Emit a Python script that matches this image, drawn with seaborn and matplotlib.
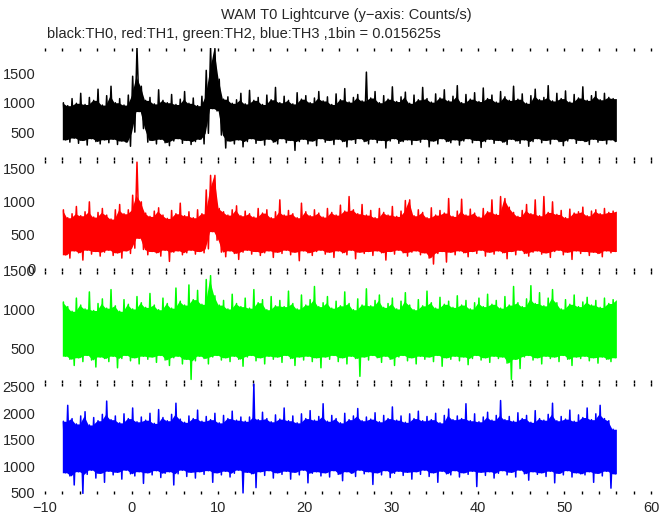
import numpy as np
import pandas as pd
import matplotlib
matplotlib.use("Agg")
import matplotlib.pyplot as plt
from matplotlib.ticker import MultipleLocator
import seaborn as sns

# Light curve envelopes, 0.5 s blocks from t = -8 s to 56 s
# (hi = local top of the noise, lo = local bottom)
t_start = -8.0
block = 0.5

th0_hi = [1000, 950, 1070, 990, 1160, 970, 1090, 1040, 1230, 960,
          1120, 1280, 1000, 1070, 960, 1130, 1450, 1930, 1280, 1040,
          1090, 980, 1220, 1040, 1000, 1140, 970, 1060, 1190, 990,
          1080, 950, 1110, 1550, 1930, 1920, 1400, 1060, 1100, 990,
          1050, 1160, 980, 1210, 1040, 1090, 970, 1130, 1050, 1260,
          1000, 1110, 1040, 980, 1170, 1060, 1120, 1000, 1080, 1190,
          1030, 1100, 970, 1150, 1050, 1240, 1010, 1090, 1140, 1030,
          1520, 1080, 1190, 1000, 1120, 1060, 1270, 1020, 1100, 1180,
          990, 1130, 1050, 1260, 1070, 1010, 1150, 1080, 1220, 1030,
          1110, 1290, 1000, 1140, 1060, 1170, 1020, 1250, 1070, 1130,
          1010, 1190, 1100, 1040, 1280, 1060, 1150, 990, 1120, 1230,
          1050, 1090, 1290, 1030, 1160, 1070, 1200, 1010, 1140, 1080,
          1270, 1040, 1120, 1190, 1050, 1160, 1090, 1070]
th0_lo = [370, 330, 400, 310, 360, 280, 390, 340, 300, 370,
          320, 380, 290, 350, 330, 260, 500, 850, 560, 330,
          360, 300, 380, 320, 270, 350, 390, 310, 360, 290,
          340, 380, 300, 480, 900, 860, 450, 230, 350, 300,
          370, 250, 340, 390, 310, 360, 280, 380, 330, 300,
          390, 320, 360, 190, 340, 380, 300, 350, 270, 390,
          330, 360, 290, 380, 340, 250, 370, 310, 390, 340,
          300, 380, 320, 360, 230, 350, 390, 310, 340, 370,
          290, 360, 330, 380, 250, 350, 300, 390, 340, 320,
          370, 280, 350, 390, 320, 360, 240, 340, 380, 310,
          360, 330, 290, 380, 350, 310, 370, 260, 340, 390,
          320, 360, 300, 380, 340, 270, 350, 390, 310, 360,
          340, 290, 380, 330, 360, 300, 370, 340]

th1_hi = [880, 760, 820, 930, 790, 850, 1000, 770, 840, 900,
          800, 740, 880, 960, 820, 880, 1100, 1600, 1000, 830,
          780, 860, 910, 800, 750, 870, 820, 980, 790, 850,
          760, 880, 820, 1180, 1400, 1400, 900, 850, 800, 880,
          940, 790, 860, 820, 770, 900, 830, 880, 760, 850,
          1030, 800, 870, 820, 760, 980, 850, 790, 880, 830,
          770, 900, 840, 800, 950, 860, 1080, 880, 820, 960,
          800, 870, 760, 900, 840, 800, 930, 780, 860, 1020,
          1030, 790, 880, 840, 760, 910, 800, 870, 830, 1050,
          780, 860, 1040, 800, 890, 830, 770, 900, 850, 1030,
          810, 1080, 1050, 920, 840, 780, 870, 960, 820, 1030,
          790, 1080, 840, 1000, 810, 870, 760, 890, 830, 850,
          920, 790, 860, 880, 820, 900, 840, 860]
th1_lo = [200, 150, 260, 230, 120, 270, 210, 250, 180, 240,
          270, 190, 230, 150, 260, 220, 300, 450, 280, 200,
          250, 230, 180, 270, 100, 240, 260, 200, 230, 270,
          210, 250, 230, 290, 550, 420, 240, 170, 260, 220,
          130, 240, 270, 210, 250, 190, 230, 260, 160, 240,
          220, 270, 200, 240, 110, 260, 230, 190, 250, 270,
          210, 240, 160, 260, 230, 200, 270, 140, 240, 220,
          250, 190, 260, 230, 120, 250, 210, 270, 230, 180,
          240, 260, 200, 230, 150, 60, 220, 250, 90, 240,
          200, 260, 230, 170, 250, 220, 270, 180, 240, 210,
          260, 230, 140, 250, 200, 270, 220, 180, 240, 260,
          210, 230, 160, 250, 270, 200, 240, 130, 260, 220,
          250, 190, 240, 220, 170, 260, 230, 250]

th2_hi = [1100, 1040, 980, 1150, 1060, 1010, 1230, 990, 1080, 1140,
          1020, 1260, 1050, 980, 1130, 1070, 1010, 1170, 1090, 1030,
          1210, 1060, 1000, 1150, 1080, 1020, 1280, 1110, 1060, 1320,
          1130, 1250, 1070, 1390, 1440, 1180, 1060, 1120, 1010, 1200,
          1080, 1040, 1150, 1020, 1260, 1090, 1130, 1000, 1170, 1050,
          1120, 1040, 1240, 1080, 1010, 1190, 1060, 1130, 1300, 1040,
          1090, 1170, 1020, 1110, 1050, 1230, 1080, 1000, 1140, 1060,
          1270, 1050, 1120, 1190, 1030, 1080, 1150, 1010, 1110, 1220,
          1060, 1000, 1130, 1050, 1240, 1090, 1020, 1160, 1070, 1110,
          1030, 1180, 1060, 1120, 1010, 1090, 1150, 1040, 1200, 1070,
          1120, 1020, 1170, 1060, 1300, 1090, 1040, 1140, 1310, 1080,
          1220, 1050, 1150, 1260, 1090, 1010, 1130, 1070, 1190, 1040,
          1100, 1160, 1060, 1120, 1030, 1150, 1080, 1130]
th2_lo = [400, 360, 280, 380, 330, 410, 350, 260, 390, 370,
          330, 400, 250, 370, 410, 340, 380, 300, 400, 360,
          390, 320, 410, 350, 280, 380, 400, 300, 360, 100,
          340, 400, 370, 300, 390, 410, 350, 380, 330, 400,
          360, 270, 390, 410, 340, 380, 300, 400, 360, 390,
          320, 410, 370, 280, 390, 350, 400, 330, 380, 250,
          390, 360, 410, 330, 380, 300, 400, 370, 140, 390,
          350, 410, 380, 320, 400, 360, 280, 390, 410, 340,
          380, 300, 400, 360, 390, 330, 410, 270, 380, 360,
          400, 340, 390, 290, 370, 410, 350, 380, 320, 400,
          370, 390, 310, 100, 360, 240, 390, 410, 350, 380,
          300, 400, 370, 390, 330, 410, 360, 280, 390, 370,
          400, 340, 380, 310, 390, 360, 330, 380]

th3_hi = [1850, 2150, 1900, 1800, 1950, 2030, 1780, 1920, 1860, 1980,
          2230, 1880, 1950, 1820, 1990, 1900, 2100, 1840, 1930, 1870,
          2000, 1810, 2070, 1920, 1860, 1980, 2190, 1890, 1830, 1950,
          1900, 2060, 1850, 1940, 1880, 2000, 1820, 1960, 1900, 2040,
          1870, 1930, 1850, 1930, 2550, 1880, 2020, 1900, 1840, 1970,
          1890, 2100, 1860, 1950, 1820, 1990, 1900, 2050, 1870, 1940,
          2180, 1850, 1960, 1900, 1820, 2000, 1880, 1950, 2090, 1860,
          1930, 1890, 2010, 1840, 1960, 1900, 2120, 1870, 1950, 1830,
          1990, 1900, 2040, 1860, 1940, 1880, 2000, 1820, 1960, 2080,
          1880, 1950, 1900, 2180, 1860, 1990, 1840, 1930, 2020, 1870,
          1960, 2240, 1880, 1940, 1850, 2010, 1900, 1960, 1830, 2050,
          1900, 1870, 1980, 2190, 1860, 1940, 1890, 2060, 1850, 1970,
          1920, 2100, 1880, 1990, 2150, 1900, 1860, 1700]
th3_lo = [880, 820, 650, 900, 490, 850, 930, 780, 870, 700,
          910, 840, 890, 760, 930, 860, 820, 900, 680, 880,
          840, 920, 790, 870, 900, 650, 860, 930, 810, 890,
          780, 900, 850, 920, 700, 880, 840, 910, 800, 870,
          930, 500, 890, 860, 600, 900, 830, 920, 780, 880,
          850, 910, 760, 890, 840, 930, 690, 870, 900, 820,
          880, 800, 920, 850, 730, 900, 870, 810, 930, 860,
          900, 660, 880, 840, 920, 790, 870, 910, 830, 890,
          760, 900, 850, 930, 810, 880, 700, 910, 860, 840,
          920, 800, 880, 850, 910, 620, 890, 830, 900, 780,
          870, 920, 840, 890, 800, 930, 860, 740, 900, 850,
          880, 810, 910, 690, 870, 840, 920, 800, 880, 860,
          840, 900, 700, 870, 820, 910, 590, 860]

colors = ["#000000", "#ff0000", "#00ff00", "#0000ff"]
ylims = [(35, 1930), (-45, 1640), (60, 1500), (480, 2580)]
yticks = [[500, 1000, 1500], [0, 500, 1000, 1500], [500, 1000, 1500],
          [500, 1000, 1500, 2000, 2500]]
his = [th0_hi, th1_hi, th2_hi, th3_hi]
los = [th0_lo, th1_lo, th2_lo, th3_lo]

sns.set_style("white")
plt.rcParams["font.family"] = ["Liberation Sans", "DejaVu Sans"]

fig = plt.figure(figsize=(6.72, 5.15), dpi=100)
gs = fig.add_gridspec(4, 1, left=45 / 672, right=651 / 672,
                      top=1 - 48 / 515, bottom=1 - 494 / 515, hspace=0)

for i in range(4):
    ax = fig.add_subplot(gs[i])
    hi = np.array(his[i], dtype=float)
    lo = np.array(los[i], dtype=float)
    n = len(hi)

    # dense core: where neighbouring blocks overlap
    edges = t_start + block * np.arange(n + 1)
    hp = np.r_[hi[0], hi, hi[-1]]
    lp = np.r_[lo[0], lo, lo[-1]]
    core = pd.DataFrame({"t": edges,
                         "top": np.minimum(hp[:-1], hp[1:]),
                         "bot": np.maximum(lp[:-1], lp[1:])})
    ax.fill_between(core["t"], core["bot"], core["top"],
                    color=colors[i], lw=0)

    # noisy trace: up to each block's top, down to its bottom
    k = np.arange(n)
    trace = pd.DataFrame({
        "t": np.column_stack([t_start + block * k + 0.125,
                              t_start + block * k + 0.375]).ravel(),
        "counts": np.column_stack([hi, lo]).ravel()})
    sns.lineplot(data=trace, x="t", y="counts", sort=False, estimator=None,
                 color=colors[i], lw=1.1, ax=ax)

    ax.set_xlim(-10, 60)
    ax.set_ylim(*ylims[i])
    ax.set_yticks(yticks[i])
    ax.set_xlabel("")
    ax.set_ylabel("")
    ax.xaxis.set_major_locator(MultipleLocator(10))
    ax.xaxis.set_minor_locator(MultipleLocator(2))
    for s in ax.spines.values():
        s.set_visible(False)
    ax.tick_params(axis="x", which="both", direction="in", top=True,
                   bottom=True, length=2, width=1, color="black",
                   labelsize=10.5, pad=5, labelbottom=(i == 3))
    ax.tick_params(axis="y", length=0, labelsize=10.5, pad=7)

fig.text(346 / 672, 1 - 15 / 515, "WAM T0 Lightcurve (y\u2212axis: Counts/s)",
         ha="center", va="center", fontsize=10.5)
fig.text(47 / 672, 1 - 34 / 515,
         "black:TH0, red:TH1, green:TH2, blue:TH3 ,1bin = 0.015625s",
         ha="left", va="center", fontsize=10.5)

plt.savefig("out.png", dpi=100)
